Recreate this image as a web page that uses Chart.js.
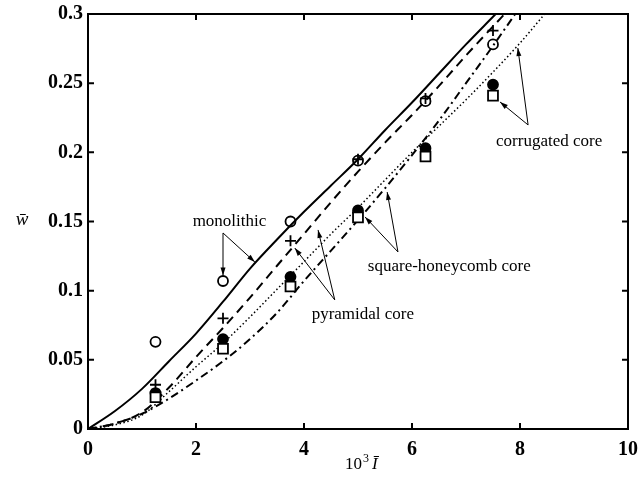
<!DOCTYPE html>
<html>
<head>
<meta charset="utf-8">
<script src="https://cdn.jsdelivr.net/npm/chart.js@4"></script>
<style>
  body { margin: 0; background: #fff; }
</style>
</head>
<body>
<canvas id="plot" width="639" height="485"></canvas>
<script>
// test points (x = 10^3 I)
const testX = [1.25, 2.5, 3.75, 5, 6.25, 7.5];
const monoPts = [0.063, 0.107, 0.150, 0.194, 0.237, 0.278];
const pyrPts = [0.032, 0.080, 0.136, 0.195, 0.239, 0.288];
const honeyPts = [0.026, 0.065, 0.110, 0.158, 0.203, 0.249];
const corrPts = [0.023, 0.058, 0.103, 0.153, 0.197, 0.241];

// model curves
const curveX = [0, 0.5, 1, 1.5, 2, 2.5, 3, 3.5, 4, 4.5, 5, 5.5, 6, 6.5, 7, 7.5, 8, 8.5];
const monoCurve = [0, 0.013, 0.029, 0.049, 0.069, 0.092, 0.116, 0.137, 0.157, 0.176, 0.195, 0.216, 0.236, 0.257, 0.278, 0.298, 0.318, 0.338];
const pyrCurve = [0, 0.004, 0.012, 0.030, 0.052, 0.073, 0.095, 0.118, 0.141, 0.164, 0.186, 0.207, 0.227, 0.248, 0.270, 0.291, 0.312, 0.333];
const honeyCurve = [0, 0.004, 0.011, 0.022, 0.035, 0.049, 0.065, 0.084, 0.107, 0.129, 0.151, 0.174, 0.198, 0.223, 0.250, 0.277, 0.305, 0.333];
const corrCurve = [0, 0.003, 0.010, 0.027, 0.045, 0.062, 0.081, 0.101, 0.121, 0.141, 0.160, 0.180, 0.200, 0.219, 0.238, 0.258, 0.279, 0.302];

const xTicks = [0, 2, 4, 6, 8, 10];
const yTicks = [0, 0.05, 0.1, 0.15, 0.2, 0.25, 0.3];

// labels and their arrows, in data units
const noteText = ['monolithic', 'pyramidal core', 'square-honeycomb core', 'corrugated core'];
const noteX = [2.62, 5.09, 6.69, 8.54];
const noteY = [0.150, 0.0824, 0.1178, 0.2075];
const arrowFrom = [[2.5, 0.1417], [4.57, 0.0933], [5.74, 0.128], [8.15, 0.2198]];
const arrowTo = [
  [[2.5, 0.111], [3.09, 0.1207]],
  [[3.83, 0.1308], [4.26, 0.1439]],
  [[5.13, 0.1533], [5.54, 0.1713]],
  [[7.63, 0.2364], [7.96, 0.2754]]
];

const pts = (xs, ys) => xs.map((x, i) => ({x: x, y: ys[i]}));

function curve(ys, dash, w, order) {
  return {
    data: pts(curveX, ys), showLine: true, pointRadius: 0,
    borderColor: '#000', borderWidth: w, borderDash: dash,
    cubicInterpolationMode: 'monotone', order: order
  };
}
function marks(ys, style, fill, r, order) {
  return {
    data: pts(testX, ys), showLine: false, pointStyle: style,
    pointRadius: r, pointBorderWidth: 1.8, borderColor: '#000',
    pointBorderColor: '#000', pointBackgroundColor: fill, order: order
  };
}

function arrow(ctx, x0, y0, x1, y1) {
  const a = Math.atan2(y1 - y0, x1 - x0);
  ctx.beginPath();
  ctx.moveTo(x0, y0);
  ctx.lineTo(x1, y1);
  ctx.stroke();
  ctx.beginPath();
  ctx.moveTo(x1, y1);
  ctx.lineTo(x1 - 8 * Math.cos(a) + 2.5 * Math.sin(a), y1 - 8 * Math.sin(a) - 2.5 * Math.cos(a));
  ctx.lineTo(x1 - 8 * Math.cos(a) - 2.5 * Math.sin(a), y1 - 8 * Math.sin(a) + 2.5 * Math.cos(a));
  ctx.closePath();
  ctx.fill();
}

const frame = {
  id: 'frame',
  afterDatasetsDraw(chart) {
    const {ctx, chartArea: a, scales: {x, y}} = chart;
    ctx.save();
    ctx.strokeStyle = '#000';
    ctx.fillStyle = '#000';
    ctx.lineWidth = 2;
    ctx.strokeRect(a.left, a.top, a.right - a.left, a.bottom - a.top);
    ctx.beginPath();
    xTicks.forEach(v => {
      const px = x.getPixelForValue(v);
      ctx.moveTo(px, a.bottom); ctx.lineTo(px, a.bottom - 6);
      ctx.moveTo(px, a.top); ctx.lineTo(px, a.top + 6);
    });
    yTicks.forEach(v => {
      const py = y.getPixelForValue(v);
      ctx.moveTo(a.left, py); ctx.lineTo(a.left + 6, py);
      ctx.moveTo(a.right, py); ctx.lineTo(a.right - 6, py);
    });
    ctx.stroke();

    // annotations
    ctx.lineWidth = 1;
    noteText.forEach((t, i) => {
      const fx = x.getPixelForValue(arrowFrom[i][0]);
      const fy = y.getPixelForValue(arrowFrom[i][1]);
      arrowTo[i].forEach(p => arrow(ctx, fx, fy, x.getPixelForValue(p[0]), y.getPixelForValue(p[1])));
    });
    ctx.font = '17px "Liberation Serif"';
    ctx.textAlign = 'center';
    ctx.textBaseline = 'middle';
    noteText.forEach((t, i) => {
      ctx.fillText(t, x.getPixelForValue(noteX[i]), y.getPixelForValue(noteY[i]));
    });

    // axis titles
    ctx.font = 'italic 19px "Liberation Serif"';
    ctx.fillText('w\u0304', 22, 220);
    ctx.textAlign = 'left';
    ctx.textBaseline = 'alphabetic';
    let cx = 345;
    ctx.font = '17px "Liberation Serif"';
    ctx.fillText('10', cx, 469);
    cx += ctx.measureText('10').width;
    ctx.font = '12px "Liberation Serif"';
    ctx.fillText('3', cx + 1, 462);
    cx += ctx.measureText('3').width + 4;
    ctx.font = 'italic 17px "Liberation Serif"';
    ctx.fillText('\u012A', cx, 469);
    ctx.restore();
  }
};

const tickFont = {family: '"Liberation Serif"', size: 20, weight: 'bold'};

new Chart(document.getElementById('plot'), {
  type: 'scatter',
  data: {
    datasets: [
      marks(corrPts, 'rect', '#fff', 7, 0),
      marks(honeyPts, 'circle', '#000', 5, 1),
      marks(pyrPts, 'cross', '#000', 5.5, 2),
      marks(monoPts, 'circle', 'rgba(0,0,0,0)', 5, 3),
      curve(monoCurve, [], 2, 4),
      curve(pyrCurve, [9, 6], 2, 5),
      curve(honeyCurve, [8, 4, 2, 4], 2, 6),
      curve(corrCurve, [1.5, 2.5], 1.5, 7)
    ]
  },
  options: {
    responsive: false,
    animation: false,
    devicePixelRatio: 1,
    layout: {padding: {left: 0, top: 14, right: 11, bottom: 0}},
    plugins: {legend: {display: false}, tooltip: {enabled: false}},
    scales: {
      x: {
        type: 'linear', min: 0, max: 10,
        grid: {display: false, drawTicks: false},
        border: {display: false},
        afterBuildTicks: s => { s.ticks = xTicks.map(v => ({value: v})); },
        afterFit: s => { s.height = 56; s.paddingLeft = 0; s.paddingRight = 0; },
        ticks: {font: tickFont, color: '#000', padding: 9, maxRotation: 0, callback: v => String(v)}
      },
      y: {
        type: 'linear', min: 0, max: 0.3,
        grid: {display: false, drawTicks: false},
        border: {display: false},
        afterBuildTicks: s => { s.ticks = yTicks.map(v => ({value: v})); },
        afterFit: s => { s.width = 88; s.paddingTop = 0; s.paddingBottom = 0; },
        ticks: {font: tickFont, color: '#000', padding: 5, callback: v => String(v)}
      }
    }
  },
  plugins: [frame]
});
</script>
</body>
</html>
